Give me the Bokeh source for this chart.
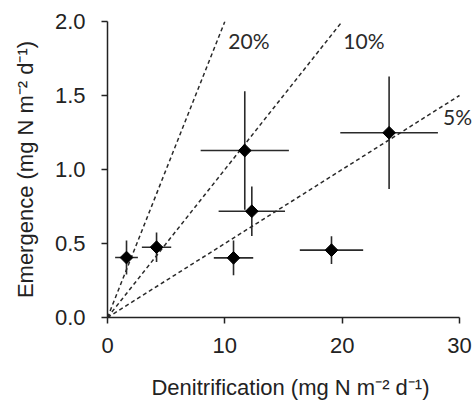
import numpy as np
from bokeh.plotting import figure
from bokeh.models import ColumnDataSource, Range1d, FixedTicker, NumeralTickFormatter, LabelSet
from bokeh.core.properties import value
from bokeh.embed import file_html
from bokeh.resources import INLINE

# data
denit = [1.62, 4.18, 11.70, 12.30, 10.74, 19.09, 24.00]
denit_err = [0.97, 1.25, 3.76, 2.83, 1.68, 2.70, 4.16]
emerg = [0.405, 0.475, 1.128, 0.718, 0.403, 0.455, 1.248]
emerg_err = [0.115, 0.10, 0.40, 0.167, 0.118, 0.094, 0.38]

ratios = [0.20, 0.10, 0.05]
ratio_labels = ["20%", "10%", "5%"]
label_x = [10.3, 20.1, 28.6]
label_y = [1.87, 1.87, 1.36]

x_ticks = [0, 10, 20, 30]
y_ticks = [0.0, 0.5, 1.0, 1.5, 2.0]
x_max, y_max = 30, 2.0

axis_px = 352          # pixel length of the x axis (0..30)
frame_px = 366         # frame extends a little beyond the axis end for the "5%" label

p = figure(width=474, height=400, frame_width=frame_px, frame_height=296,
           min_border_left=107, min_border_right=1, min_border_top=21, min_border_bottom=83,
           x_range=Range1d(0, x_max * frame_px / axis_px), y_range=Range1d(0, y_max),
           output_backend="svg", toolbar_location=None)

p.grid.visible = False
p.outline_line_color = None
p.background_fill_color = "white"
p.border_fill_color = "white"

# ratio lines
for r in ratios:
    xe = min(x_max, y_max / r)
    p.line([0, xe], [0, r * xe], line_color="#2a2a2a", line_width=1.5, line_dash="4 3")

src = ColumnDataSource(dict(
    x=denit, y=emerg,
    xl=[a - b for a, b in zip(denit, denit_err)], xu=[a + b for a, b in zip(denit, denit_err)],
    yl=[a - b for a, b in zip(emerg, emerg_err)], yu=[a + b for a, b in zip(emerg, emerg_err)],
))
p.segment(x0="xl", x1="xu", y0="y", y1="y", source=src, line_color="#2a2a2a", line_width=1.6)
p.segment(x0="x", x1="x", y0="yl", y1="yu", source=src, line_color="#2a2a2a", line_width=1.6)
p.scatter(x="x", y="y", source=src, marker="square", angle=np.pi / 4, size=9,
          fill_color="black", line_color="black")

lsrc = ColumnDataSource(dict(x=label_x, y=label_y, t=ratio_labels))
p.add_layout(LabelSet(x="x", y="y", text="t", source=lsrc, text_font=value("Lato"),
                      text_font_size=value("21px"), text_color=value("#2a2a2a"),
                      text_baseline=value("middle"), text_align=value("left")))

for ax in (p.xaxis, p.yaxis):
    ax.axis_line_width = 1.5
    ax.axis_line_color = "#222222"
    ax.major_tick_line_width = 1.5
    ax.major_tick_line_color = "#222222"
    ax.major_tick_out = 6
    ax.major_tick_in = 0
    ax.minor_tick_line_color = None
    ax.major_label_text_font = "Liberation Sans"
    ax.major_label_text_font_size = "22px"
    ax.major_label_text_color = "#222222"
    ax.axis_label_text_font = "Liberation Sans"
    ax.axis_label_text_font_size = "22px"
    ax.axis_label_text_font_style = "normal"
    ax.axis_label_text_color = "#222222"

p.xaxis.bounds = (0, x_max)
p.xaxis.ticker = FixedTicker(ticks=x_ticks)
p.yaxis.ticker = FixedTicker(ticks=y_ticks)
p.yaxis.formatter = NumeralTickFormatter(format="0.0")
p.xaxis.major_label_standoff = 14
p.yaxis.major_label_standoff = 16
p.xaxis.axis_label_standoff = 19
p.yaxis.axis_label_standoff = 14
p.xaxis.axis_label = "Denitrification (mg N m\u207b\u00b2 d\u207b\u00b9)"
p.yaxis.axis_label = "Emergence (mg N m\u207b\u00b2 d\u207b\u00b9)"

open("out.html", "w").write(file_html(p, INLINE))
